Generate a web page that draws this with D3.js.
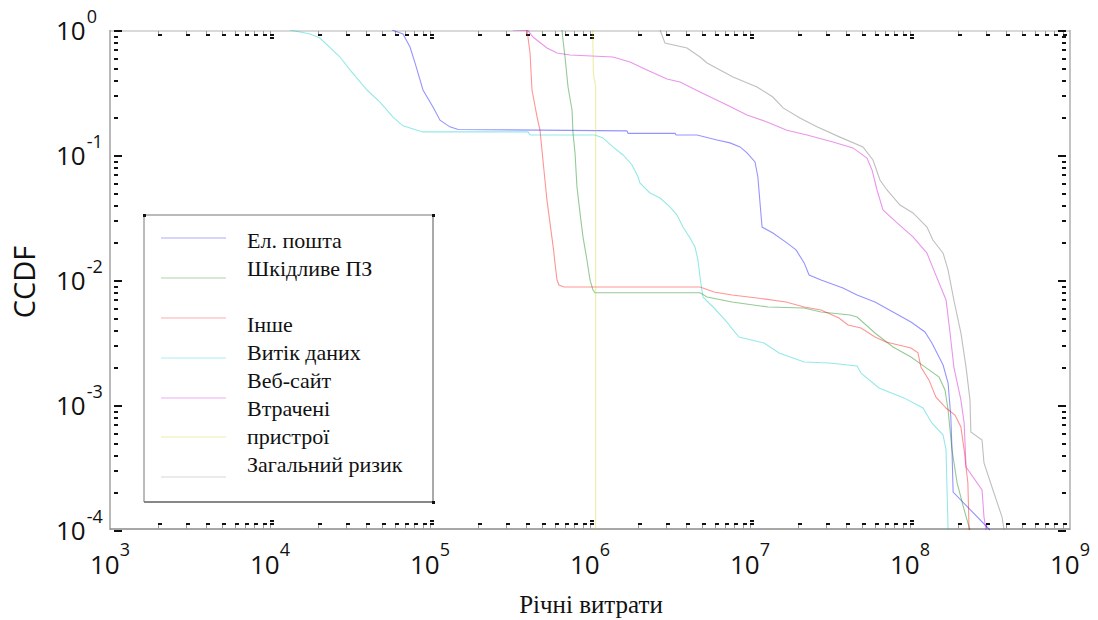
<!DOCTYPE html>
<html>
<head>
<meta charset="utf-8">
<script src="https://cdn.jsdelivr.net/npm/d3@7"></script>
<style>
  html, body { margin: 0; padding: 0; background: #fff; }
  svg { display: block; }
</style>
</head>
<body>
<svg id="chart" width="1098" height="620"></svg>
<script>
// ---------------- DATA ----------------
const xTicks = [1e3, 1e4, 1e5, 1e6, 1e7, 1e8, 1e9];
const xTickExp = ["3", "4", "5", "6", "7", "8", "9"];
const yTicks = [1, 1e-1, 1e-2, 1e-3, 1e-4];
const yTickExp = ["0", "-1", "-2", "-3", "-4"];

const seriesNames = ["Ел. пошта", "Шкідливе ПЗ", "Інше", "Витік даних", "Веб-сайт", "Втрачені пристрої", "Загальний ризик"];

const emailData = [
  [57900, 1.0], [67800, 0.93], [75000, 0.73], [80600, 0.545], [90400, 0.331], [104400, 0.242],
  [115500, 0.19], [133000, 0.168], [150000, 0.16], [1.70e6, 0.156], [1.73e6, 0.149], [3.40e6, 0.149],
  [3.45e6, 0.1445], [4.67e6, 0.1445], [6.22e6, 0.132], [7.50e6, 0.125], [8.66e6, 0.116], [9.58e6, 0.104],
  [1.075e7, 0.0879], [1.12e7, 0.0667], [1.155e7, 0.0413], [1.19e7, 0.0265], [1.39e7, 0.0238],
  [1.70e7, 0.0198], [1.94e7, 0.0174], [2.18e7, 0.0137], [2.34e7, 0.01096], [2.78e7, 0.0100],
  [3.81e7, 0.00863], [4.67e7, 0.00759], [6.04e7, 0.00667], [7.83e7, 0.00555], [1.014e8, 0.00461],
  [1.24e8, 0.00384], [1.37e8, 0.00313], [1.61e8, 0.00209], [1.73e8, 0.0015], [1.80e8, 0.0008],
  [1.83e8, 0.000437], [1.86e8, 0.000201], [3.16e8, 0.0001]
];
const malwareData = [
  [668000, 1.0], [678000, 0.832], [698000, 0.608], [729000, 0.35], [772000, 0.229], [783000, 0.15],
  [806000, 0.104], [829000, 0.0555], [866000, 0.0344], [904000, 0.0221], [957000, 0.01445],
  [1.0e6, 0.01], [1.044e6, 0.0083], [1.074e6, 0.00791], [4.87e6, 0.00791], [5.39e6, 0.00731],
  [7.72e6, 0.00667], [1.296e7, 0.00608], [2.18e7, 0.00597], [2.78e7, 0.00555], [4.22e7, 0.00525],
  [4.67e7, 0.00506], [6.04e7, 0.00377], [7.83e7, 0.00291], [1.014e8, 0.00242], [1.315e8, 0.00191],
  [1.52e8, 0.00167], [1.655e8, 0.00132], [1.73e8, 0.000912], [1.78e8, 0.00063], [1.83e8, 0.000437],
  [1.97e8, 0.000238], [2.18e8, 0.000145], [2.37e8, 0.0001]
];
const otherData = [
  [404000, 1.0], [422000, 0.655], [434000, 0.331], [467000, 0.201], [487000, 0.158], [508000, 0.0912],
  [538000, 0.0437], [592000, 0.0174], [604000, 0.0137], [622000, 0.01], [640000, 0.00912],
  [688000, 0.00879], [4.87e6, 0.00879], [5.96e6, 0.00802], [7.72e6, 0.00759], [1.106e7, 0.00718],
  [1.68e7, 0.00667], [2.18e7, 0.00608], [2.78e7, 0.00575], [3.60e7, 0.00497], [4.10e7, 0.00437],
  [4.94e7, 0.00413], [6.04e7, 0.0035], [7.08e7, 0.00319], [1.014e8, 0.00286], [1.122e8, 0.00261],
  [1.17e8, 0.00201], [1.315e8, 0.00158], [1.45e8, 0.00116], [1.68e8, 0.000946], [1.91e8, 0.000832],
  [2.08e8, 0.000667], [2.18e8, 0.000437], [2.24e8, 0.000319], [2.30e8, 0.000238], [2.34e8, 0.0001]
];
const leakData = [
  [13300, 1.0], [17800, 0.93], [20500, 0.863], [27400, 0.608], [31600, 0.479], [40400, 0.331],
  [48700, 0.265], [58700, 0.201], [67800, 0.171], [83000, 0.158], [90400, 0.153], [410000, 0.153],
  [422000, 0.1445], [1.074e6, 0.1445], [1.205e6, 0.137], [1.39e6, 0.116], [1.61e6, 0.1],
  [1.83e6, 0.0832], [2.0e6, 0.0667], [2.05e6, 0.0597], [2.37e6, 0.0497], [2.74e6, 0.0453],
  [3.16e6, 0.0384], [3.50e6, 0.0331], [3.81e6, 0.0265], [4.22e6, 0.0217], [4.53e6, 0.0184],
  [4.73e6, 0.01445], [4.87e6, 0.01057], [5.08e6, 0.00731], [5.96e6, 0.00597], [6.98e6, 0.00479],
  [8.53e6, 0.0035], [1.224e7, 0.00313], [1.52e7, 0.00261], [2.18e7, 0.00221], [3.12e7, 0.00217],
  [4.67e7, 0.00205], [4.94e7, 0.0018], [6.40e7, 0.00137], [9.17e7, 0.00114], [1.205e8, 0.000946],
  [1.37e8, 0.000718], [1.61e8, 0.000575], [1.68e8, 0.000437], [1.70e8, 0.000238], [1.73e8, 0.0001]
];
const websiteData = [
  [330000, 1.0], [410000, 0.99], [440000, 0.879], [538000, 0.718], [622000, 0.655], [750000, 0.631],
  [1.39e6, 0.608], [1.78e6, 0.555], [2.27e6, 0.479], [3.03e6, 0.405], [3.65e6, 0.384], [4.87e6, 0.319],
  [7.18e6, 0.251], [9.58e6, 0.209], [1.277e7, 0.184], [1.70e7, 0.158], [2.27e7, 0.1445], [3.30e7, 0.127],
  [4.40e7, 0.114], [5.38e7, 0.0946], [5.79e7, 0.0759], [6.22e7, 0.0525], [6.78e7, 0.0363],
  [8.30e7, 0.0286], [1.044e8, 0.0221], [1.277e8, 0.0164], [1.39e8, 0.0125], [1.68e8, 0.00692],
  [1.78e8, 0.00377], [1.88e8, 0.00201], [2.08e8, 0.0011], [2.18e8, 0.000718], [2.24e8, 0.000319],
  [2.82e8, 0.000209], [2.90e8, 0.000127], [2.99e8, 0.0001]
];
const lostDevicesData = [
  [1.04e6, 1.0], [1.05e6, 0.45], [1.085e6, 0.35], [1.085e6, 0.0001]
];
const totalData = [
  [2.74e6, 1.0], [2.94e6, 0.787], [4.04e6, 0.718], [4.87e6, 0.608], [5.39e6, 0.545], [7.83e6, 0.421],
  [1.106e7, 0.35], [1.39e7, 0.291], [1.61e7, 0.238], [2.05e7, 0.198], [2.62e7, 0.168], [3.65e7, 0.139],
  [5.08e7, 0.116], [5.87e7, 0.0912], [6.49e7, 0.0631], [7.18e7, 0.0525], [8.66e7, 0.0398],
  [1.044e8, 0.0344], [1.277e8, 0.0265], [1.39e8, 0.0209], [1.61e8, 0.0164], [1.73e8, 0.012],
  [1.88e8, 0.00692], [2.08e8, 0.00377], [2.24e8, 0.00201], [2.37e8, 0.0011], [2.40e8, 0.000608],
  [2.82e8, 0.000525], [2.90e8, 0.000344], [3.30e8, 0.000209], [3.76e8, 0.000127], [3.87e8, 0.0001]
];

const seriesColors = ["#0000ff", "#008000", "#ff0000", "#00c8c8", "#cc00cc", "#cccc00", "#808080"];
const seriesData = [emailData, malwareData, otherData, leakData, websiteData, lostDevicesData, totalData];

// ---------------- LAYOUT ----------------
const svg = d3.select("#chart");
const L = 110, R = 1070, T = 30, B = 530;
const x = d3.scaleLog().domain([1e3, 1e9]).range([L, R]);
const y = d3.scaleLog().domain([1e-4, 1]).range([B, T]);

const sansFont = "'Open Sans', 'Noto Sans', sans-serif";
const serifFont = "'Liberation Serif', 'DejaVu Serif', serif";

svg.append("defs").append("clipPath").attr("id", "plotclip")
  .append("rect").attr("x", L).attr("y", T).attr("width", R - L).attr("height", B - T + 1);

// axes frame
svg.append("line").attr("x1", L).attr("x2", R).attr("y1", T + 1).attr("y2", T + 1)
  .attr("stroke", "#b4b4b4").attr("stroke-width", 1.2);
svg.append("line").attr("x1", L).attr("x2", R).attr("y1", B - 1).attr("y2", B - 1)
  .attr("stroke", "#8a8a8a").attr("stroke-width", 1.5);
svg.append("line").attr("x1", L).attr("x2", L).attr("y1", T).attr("y2", B)
  .attr("stroke", "#8a8a8a").attr("stroke-width", 1.2);
svg.append("line").attr("x1", R).attr("x2", R).attr("y1", T).attr("y2", B)
  .attr("stroke", "#9a9a9a").attr("stroke-width", 1.2);

// tick marks (small dashes)
const tickG = svg.append("g");
const xMinor = x.ticks().filter(v => v > 1e3 && v < 1e9);
xMinor.forEach(v => {
  const px = Math.round(x(v));
  const isMajor = Math.abs(Math.log10(v) - Math.round(Math.log10(v))) < 1e-9;
  tickG.append("line").attr("x1", px + 0.5).attr("x2", px + 0.5).attr("y1", T + 1).attr("y2", T + 5)
    .attr("stroke", "#999").attr("stroke-width", 1);
  tickG.append("rect").attr("x", px).attr("y", T + 4).attr("width", 4).attr("height", 2).attr("fill", "#111");
  if (isMajor) tickG.append("rect").attr("x", px).attr("y", T + 7).attr("width", 4).attr("height", 2).attr("fill", "#111");
  tickG.append("line").attr("x1", px + 0.5).attr("x2", px + 0.5).attr("y1", B - 1).attr("y2", B - 6)
    .attr("stroke", "#999").attr("stroke-width", 1);
  tickG.append("rect").attr("x", px).attr("y", B - 7).attr("width", 4).attr("height", 2).attr("fill", "#111");
  if (isMajor) tickG.append("rect").attr("x", px).attr("y", B - 10).attr("width", 4).attr("height", 2).attr("fill", "#111");
});
const yMinor = y.ticks();
yMinor.forEach(v => {
  const py = Math.round(y(v));
  const isMajor = Math.abs(Math.log10(v) - Math.round(Math.log10(v))) < 1e-9;
  const w = isMajor ? 8 : 4;
  tickG.append("rect").attr("x", L + 4).attr("y", py).attr("width", w).attr("height", 2).attr("fill", "#111");
  tickG.append("rect").attr("x", R - 4 - w).attr("y", py).attr("width", w).attr("height", 2).attr("fill", "#111");
});

// series lines
const line = d3.line().x(d => x(d[0])).y(d => y(d[1]));
const plotG = svg.append("g").attr("clip-path", "url(#plotclip)");
seriesData.forEach((data, i) => {
  plotG.append("path").datum(data).attr("d", line)
    .attr("fill", "none")
    .attr("stroke", seriesColors[i])
    .attr("stroke-opacity", i === 5 ? 0.35 : (i === 6 ? 0.5 : 0.42))
    .attr("stroke-width", 1.1);
});

// tick labels
const xLab = svg.append("g").attr("font-family", sansFont).attr("fill", "#111");
xTicks.forEach((v, i) => {
  const t = xLab.append("text").attr("x", x(v)).attr("y", 574).attr("text-anchor", "middle")
    .attr("font-size", 26);
  t.append("tspan").text("10");
  t.append("tspan").attr("font-size", 18).attr("dy", -18).text(xTickExp[i]);
});
const yLab = svg.append("g").attr("font-family", sansFont).attr("fill", "#111");
yTicks.forEach((v, i) => {
  const t = yLab.append("text").attr("x", 56).attr("y", y(v) + 10).attr("text-anchor", "start")
    .attr("font-size", 26);
  t.append("tspan").text("10");
  t.append("tspan").attr("font-size", 18).attr("dy", -17).attr("dx", 1).text(yTickExp[i]);
});

// axis titles
svg.append("text").attr("transform", "translate(35,282) rotate(-90)")
  .attr("text-anchor", "middle").attr("font-family", sansFont).attr("font-size", 29)
  .attr("fill", "#111").text("CCDF");
svg.append("text").attr("x", 591).attr("y", 613).attr("text-anchor", "middle")
  .attr("font-family", serifFont).attr("font-size", 25).attr("fill", "#111").text("Річні витрати");

// legend
const leg = svg.append("g");
const LL = 144, LT = 215, LR = 433, LB = 502;
leg.append("rect").attr("x", LL).attr("y", LT).attr("width", LR - LL).attr("height", LB - LT)
  .attr("fill", "#fff").attr("stroke", "none");
leg.append("line").attr("x1", LL).attr("x2", LR).attr("y1", LT).attr("y2", LT).attr("stroke", "#777").attr("stroke-width", 1);
leg.append("line").attr("x1", LL).attr("x2", LR).attr("y1", LB).attr("y2", LB).attr("stroke", "#888").attr("stroke-width", 2);
leg.append("line").attr("x1", LL).attr("x2", LL).attr("y1", LT).attr("y2", LB).attr("stroke", "#777").attr("stroke-width", 1);
leg.append("line").attr("x1", LR).attr("x2", LR).attr("y1", LT).attr("y2", LB).attr("stroke", "#555").attr("stroke-width", 1);
[[LL - 1, LT - 1], [LR - 1, LT - 1], [LR - 1, LB - 1]].forEach(p => {
  leg.append("rect").attr("x", p[0]).attr("y", p[1]).attr("width", 3).attr("height", 3).attr("fill", "#111");
});
const legLineY = [238, 278, 318, 358, 398, 437, 477];
seriesColors.forEach((c, i) => {
  leg.append("line").attr("x1", 161).attr("x2", 226).attr("y1", legLineY[i]).attr("y2", legLineY[i])
    .attr("stroke", c).attr("stroke-opacity", 0.22).attr("stroke-width", 1.5);
});
const legendText = ["Ел. пошта", "Шкідливе ПЗ", "", "Інше", "Витік даних", "Веб-сайт", "Втрачені", "пристрої", "Загальний ризик"];
legendText.forEach((s, i) => {
  if (!s) return;
  leg.append("text").attr("x", 247).attr("y", 248 + 28 * i)
    .attr("font-family", serifFont).attr("font-size", 22).attr("fill", "#111").text(s);
});
</script>
</body>
</html>
